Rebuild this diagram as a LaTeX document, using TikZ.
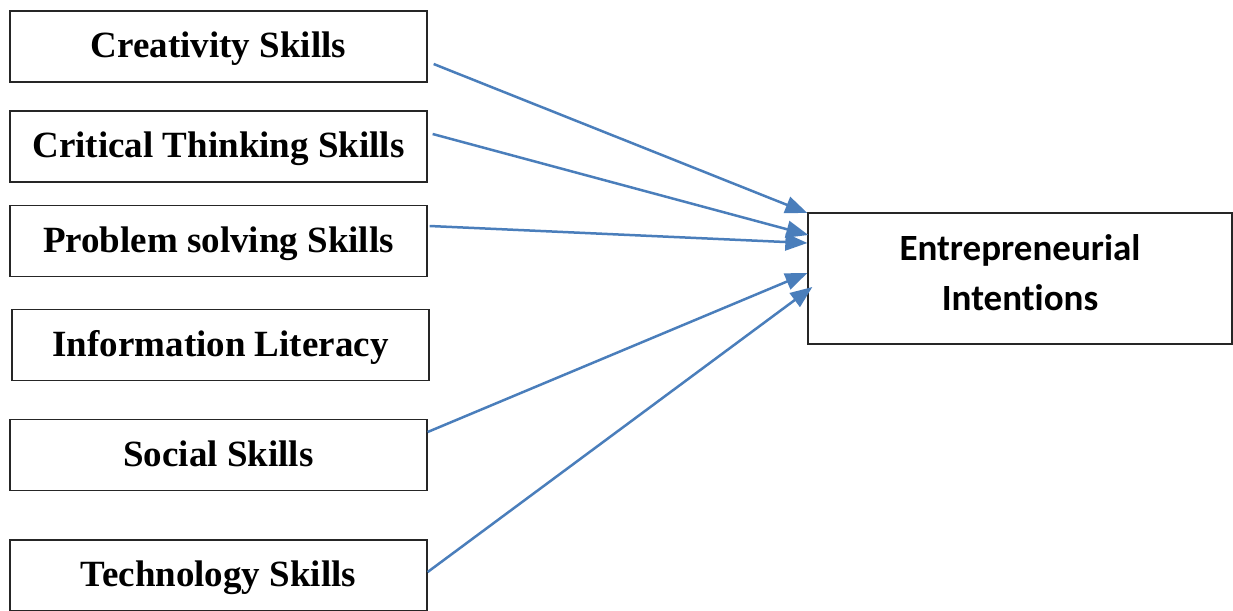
\documentclass[tikz,border=0pt]{standalone}
\usepackage{fontspec}
\setmainfont{Liberation Serif}
\newfontfamily\calfont[Ligatures=NoCommon]{Carlito}
\usetikzlibrary{arrows.meta}
\definecolor{linkblue}{HTML}{4A7EBB}
\tikzset{
  skillbox/.style={draw=black!85, line width=1.3pt, minimum width=417, minimum height=71,
    inner sep=0pt, font=\fontsize{37}{44}\selectfont\bfseries,
    text height=30pt, text depth=8pt},
  outcomebox/.style={draw=black!85, line width=1.3pt, minimum width=424, minimum height=131,
    inner sep=0pt},
  outcomelabel/.style={align=center, inner sep=0pt, yshift=6pt,
    font=\calfont\fontsize{37}{50}\selectfont\bfseries},
  link/.style={draw=linkblue, line width=2.5pt, -{Triangle[length=22pt,width=17pt]}}
}
\begin{document}
\begin{tikzpicture}[x=1pt,y=-1pt]
\useasboundingbox[fill=white] (0,0) rectangle (1233,610);
% predictor boxes
\node[skillbox] (b1) at (218.5,46.5) {Creativity Skills};
\node[skillbox] (b2) at (218.5,146.5) {Critical Thinking Skills};
\node[skillbox] (b3) at (218.5,241) {Problem solving Skills};
\node[skillbox] (b4) at (220.5,345) {Information Literacy};
\node[skillbox] (b5) at (218.5,455) {Social Skills};
\node[skillbox] (b6) at (218.5,575.5) {Technology Skills};
% outcome box
\node[outcomebox, label={[outcomelabel]center:Entrepreneurial\\Intentions}] (ei) at (1020,278.5) {};
% paths into the outcome
\draw[link] ([shift={(6,17.5)}]b1.east) -- ([shift={(0,-65.5)}]ei.west);
\draw[link] ([shift={(5,-12.5)}]b2.east) -- ([shift={(1,-43.5)}]ei.west);
\draw[link] ([shift={(2,-15)}]b3.east) -- ([shift={(0,-35.5)}]ei.west);
\draw[link] ([shift={(0,-23)}]b5.east) -- ([shift={(0,-5.5)}]ei.west);
\draw[link] ([shift={(0,-3.5)}]b6.east) -- ([shift={(5,8.5)}]ei.west);
\end{tikzpicture}
\end{document}
